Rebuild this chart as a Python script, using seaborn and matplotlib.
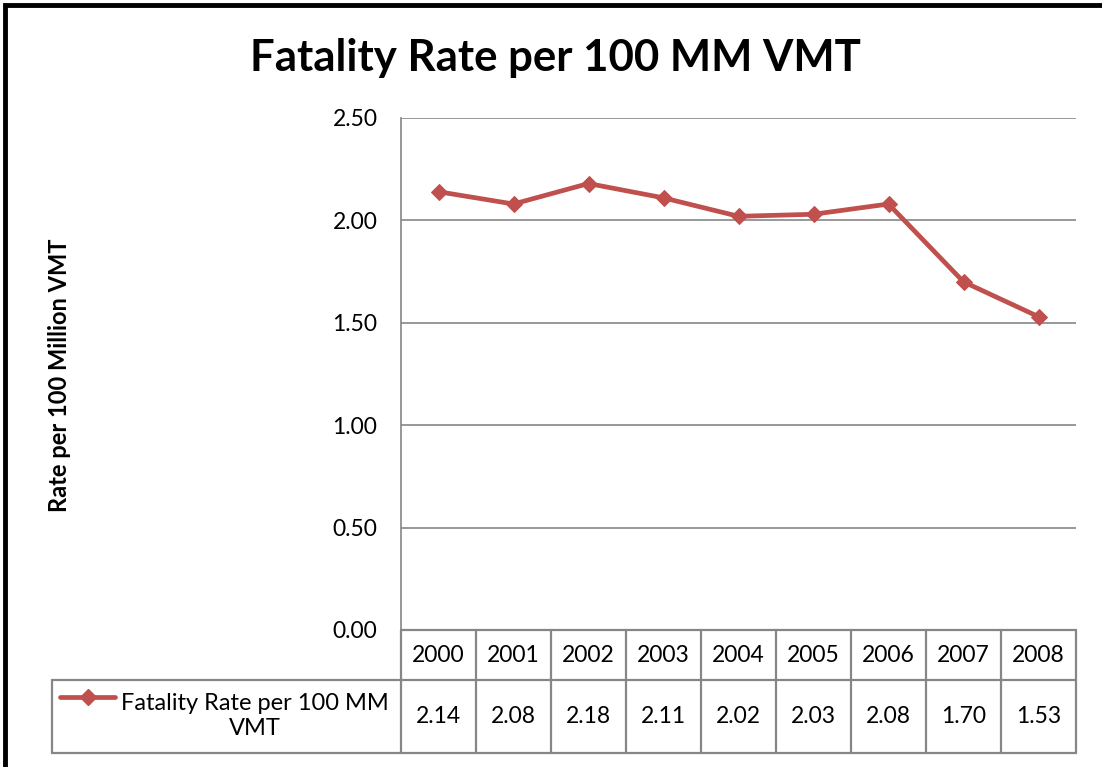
import numpy as np
import matplotlib
matplotlib.use("Agg")
import matplotlib.pyplot as plt
import matplotlib.transforms as mtransforms
from matplotlib.patches import Rectangle
from matplotlib.lines import Line2D
import seaborn as sns
import pandas as pd

years = ["2000", "2001", "2002", "2003", "2004", "2005", "2006", "2007", "2008"]
rates = [2.14, 2.08, 2.18, 2.11, 2.02, 2.03, 2.08, 1.70, 1.53]
series_name = "Fatality Rate per 100 MM VMT"
y_ticks = [0.0, 0.5, 1.0, 1.5, 2.0, 2.5]

sns.set_theme(style="white")
plt.rcParams['font.family'] = ['Lato', 'DejaVu Sans']
plt.rcParams['text.color'] = 'black'
plt.rcParams['ytick.color'] = 'black'

W, H = 1102, 767
fig = plt.figure(figsize=(W / 100, H / 100), dpi=100)

def fx(px):
    return px / W

def fy(py):
    return 1 - py / H

line_c = "#C0504D"
grid_c = "#868686"

# --- 绘图区 --- #
left, right, top, bottom = 401, 1076, 118, 630
ax = fig.add_axes([fx(left), fy(bottom), fx(right - left), (bottom - top) / H])
df = pd.DataFrame({"year": years, "rate": rates})
df["pos"] = np.arange(len(years))
sns.lineplot(data=df, x="pos", y="rate", ax=ax, color=line_c, linewidth=3.4,
             marker="D", markersize=8.5, markeredgecolor=line_c)
ax.set_xlim(-0.5, len(years) - 0.5)
ax.set_ylim(0, 2.5)
ax.set_yticks(y_ticks)
ax.set_yticklabels([f"{v:.2f}" for v in y_ticks], fontsize=16.5, color="black")
ax.tick_params(axis="y", pad=17, length=0)
ax.set_xticks([])
ax.set_xlabel("")
ax.set_ylabel("")
ax.grid(axis="y", color=grid_c, linewidth=1.2)
for s in ["top", "right", "bottom"]:
    ax.spines[s].set_visible(False)
ax.spines["left"].set_color(grid_c)
ax.spines["left"].set_linewidth(1.2)

# --- 标题和轴标签 --- #
fig.text(fx(555), fy(58), series_name, ha="center", va="center",
         fontsize=31.5, fontweight="bold", color="black")
fig.text(fx(60), fy(375), "Rate per 100 Million VMT", ha="center", va="center",
         rotation=90, fontsize=17, fontweight="bold", color="black")

# --- 数据表 --- #
tr = mtransforms.blended_transform_factory(ax.transData, fig.transFigure)
row1, row2, row3 = 630, 680, 753
n = len(years)
for y in [row1, row2, row3]:
    fig.add_artist(Line2D([fx(left), fx(right)], [fy(y), fy(y)], color=grid_c, lw=1.6))
for i in range(n + 1):
    xv = i - 0.5
    fig.add_artist(Line2D([xv, xv], [fy(row1), fy(row3)], color=grid_c, lw=1.6, transform=tr))
for i, (yr, v) in enumerate(zip(years, rates)):
    fig.text(i, fy((row1 + row2) / 2), yr, ha="center", va="center", fontsize=16.5,
             color="black", transform=tr)
    fig.text(i, fy((row2 + row3) / 2), f"{v:.2f}", ha="center", va="center", fontsize=16.5,
             color="black", transform=tr)

# 图例单元格
fig.add_artist(Line2D([fx(52), fx(left)], [fy(row2), fy(row2)], color=grid_c, lw=1.6))
fig.add_artist(Line2D([fx(52), fx(left)], [fy(row3), fy(row3)], color=grid_c, lw=1.6))
fig.add_artist(Line2D([fx(52), fx(52)], [fy(row2), fy(row3)], color=grid_c, lw=1.6))
fig.add_artist(Line2D([fx(60), fx(115)], [fy(697), fy(697)], color=line_c, lw=3.4))
fig.add_artist(Line2D([fx(87.5)], [fy(697)], color=line_c, marker="D", markersize=8.5, lw=0))
fig.text(fx(255), fy(716), "Fatality Rate per 100 MM\nVMT", ha="center", va="center",
         fontsize=17, linespacing=1.2, color="black")

# 外边框
fig.add_artist(Rectangle((fx(5), fy(800)), fx(1200), 795 / H, fill=False,
                         edgecolor="black", lw=3.5, transform=fig.transFigure))

fig.savefig("out.png", dpi=100)
